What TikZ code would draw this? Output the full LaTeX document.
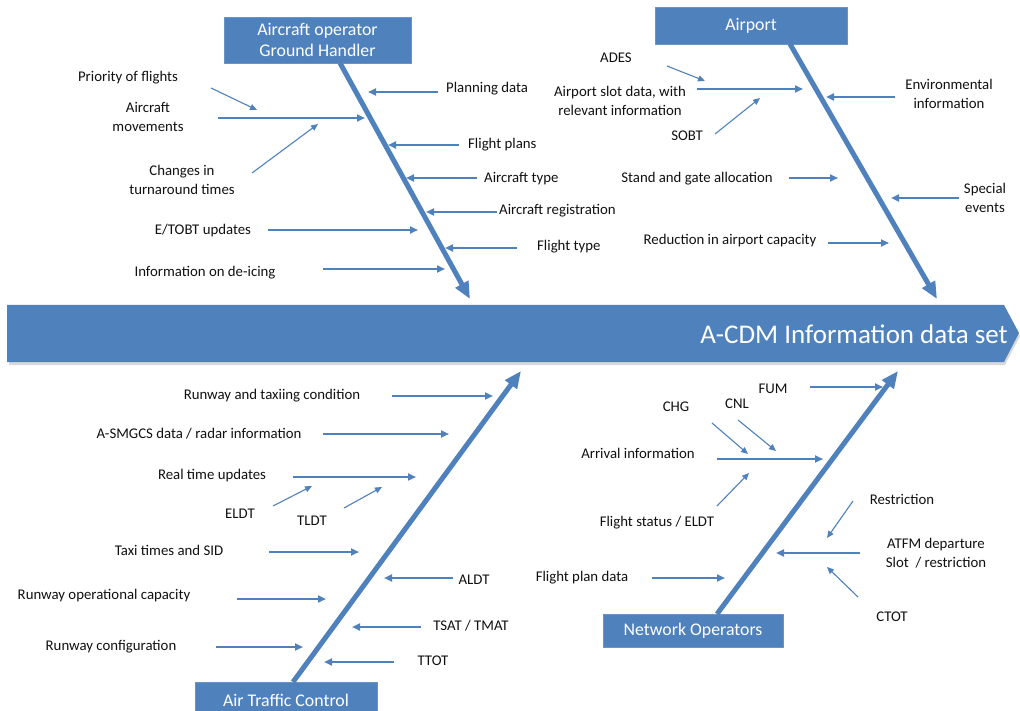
\documentclass[tikz,border=0pt]{standalone}
\usepackage{fontspec}
\setmainfont{Carlito}
\usetikzlibrary{arrows.meta}
\definecolor{bl}{HTML}{4F81BD}
\definecolor{tx}{HTML}{111111}
\newcommand\myarr[4][arr]{%
  \coordinate (#2-s) at (#3);
  \coordinate (#2-e) at (#4);
  \draw[#1] (#2-s) -- (#2-e);}
\begin{document}
\begin{tikzpicture}[x=1pt,y=-1pt,
  lbl/.style={text=tx,font=\fontsize{14.8}{19}\selectfont,align=center,inner sep=0pt},
  arr/.style={draw=bl,line width=2pt,-{Triangle[length=8pt,width=7pt]}},
  thin/.style={draw=bl,line width=1.1pt,-{Triangle[length=7pt,width=6pt]}},
  bone/.style={draw=bl,line width=5pt,-{Triangle[length=17pt,width=14pt]}},
  box/.style={fill=bl,draw=bl!85!white,line width=0.8pt,text=white,font=\fontsize{17.8}{21}\selectfont,align=center,inner sep=0pt}]
\clip (0,0) rectangle (1020,711);
\fill[white] (0,0) rectangle (1020,711);
% spine
\fill[black!15] (9,308) -- (1005,308) -- (1020,336) -- (1005,365) -- (9,365) -- cycle;
\fill[bl] (7,305) -- (1004,305) -- (1019,333) -- (1004,362) -- (7,362) -- cycle;
\node[text=white,font=\fontsize{27}{30}\selectfont,anchor=east,inner sep=0pt] (spine) at (1008,334) {A-CDM Information data set};
% category boxes
\node[box,minimum width=187pt,minimum height=46pt] (ao) at (317.5,40) {Aircraft operator\\Ground Handler};
\node[box,minimum width=192pt,minimum height=37pt] (ap) at (751,25.5) {Airport};
\node[box,minimum width=182pt,minimum height=36pt] (atc) at (286,700) {Air Traffic Control};
\node[box,minimum width=180pt,minimum height=33pt] (no) at (693,630.5) {Network Operators};
% bones
\coordinate (ao-b) at (340,63);  \coordinate (ao-t) at (470,299);
\coordinate (ap-b) at (790,44);  \coordinate (ap-t) at (937,299);
\coordinate (atc-b) at (293,682); \coordinate (atc-t) at (521,371);
\coordinate (no-b) at (717,614); \coordinate (no-t) at (898,371);
\draw[bone] (ao-b) -- (ao-t);
\draw[bone] (ap-b) -- (ap-t);
\draw[bone] (atc-b) -- (atc-t);
\draw[bone] (no-b) -- (no-t);
% ---- Aircraft operator / ground handler
\node[lbl] (prio) at (128,78) {Priority of flights};
\node[lbl] (acmov) at (148,116.5) {Aircraft\\movements};
\node[lbl] (chgta) at (182,179.5) {Changes in\\turnaround times};
\node[lbl] (etobt) at (203,231) {E/TOBT updates};
\node[lbl] (deice) at (205,273) {Information on de-icing};
\node[lbl,anchor=west] (plan) at (446,89) {Planning data};
\node[lbl,anchor=west] (fpl) at (468,145) {Flight plans};
\node[lbl,anchor=west] (actype) at (484,179) {Aircraft type};
\node[lbl,anchor=west] (acreg) at (499,211) {Aircraft registration};
\node[lbl,anchor=west] (ftype) at (537,247) {Flight type};
\myarr[thin]{a1}{211,88}{257,110}
\myarr{a2}{218,118}{365,118}
\myarr[thin]{a3}{252,173}{318,124}
\myarr{a4}{268,230}{418,230}
\myarr{a5}{323,269}{445,269}
\myarr{a6}{438,92}{368,92}
\myarr{a7}{459,145}{388,145}
\myarr{a8}{477,178}{406,178}
\myarr{a9}{497,212}{426,212}
\myarr{a10}{517,248}{445,248}
% ---- Airport
\node[lbl] (ades) at (616,58) {ADES};
\node[lbl] (slot) at (620,101) {Airport slot data, with\\relevant information};
\node[lbl] (sobt) at (687,136) {SOBT};
\node[lbl] (env) at (949,94) {Environmental\\information};
\node[lbl] (stand) at (697,179) {Stand and gate allocation};
\node[lbl] (spec) at (985,198) {Special\\events};
\node[lbl] (reduc) at (730,241) {Reduction in airport capacity};
\myarr[thin]{b1}{667,66}{705,81}
\myarr{b2}{697,89}{803,89}
\myarr[thin]{b3}{715,134}{760,98}
\myarr{b4}{895,97}{826,97}
\myarr{b5}{789,178}{838,178}
\myarr{b6}{959,198}{891,198}
\myarr{b7}{828,243}{889,243}
% ---- Air traffic control
\node[lbl] (rwycond) at (272,396) {Runway and taxiing condition};
\node[lbl] (asmgcs) at (199,434) {A-SMGCS data / radar information};
\node[lbl] (rtu) at (212,476) {Real time updates};
\node[lbl] (eldt) at (240,514) {ELDT};
\node[lbl] (tldt) at (312,521) {TLDT};
\node[lbl] (taxi) at (169,550) {Taxi times and SID};
\node[lbl] (aldt) at (474,580) {ALDT};
\node[lbl] (rwycap) at (104,596) {Runway operational capacity};
\node[lbl] (tsat) at (471,626) {TSAT / TMAT};
\node[lbl] (rwyconf) at (111,647) {Runway configuration};
\node[lbl] (ttot) at (433,661) {TTOT};
\myarr{c1}{392,396}{493,396}
\myarr{c2}{323,434}{449,434}
\myarr{c3}{293,477}{416,477}
\myarr[thin]{c4}{273,506}{312,486}
\myarr[thin]{c5}{344,508}{382,487}
\myarr{c6}{269,552}{359,552}
\myarr{c7}{453,578}{384,578}
\myarr{c8}{237,599}{326,599}
\myarr{c9}{421,627}{352,627}
\myarr{c10}{216,647}{303,647}
\myarr{c11}{394,662}{324,662}
% ---- Network operators
\node[lbl] (fum) at (773,389) {FUM};
\node[lbl] (chg) at (676,407) {CHG};
\node[lbl] (cnl) at (737,404) {CNL};
\node[lbl] (arrinf) at (638,453) {Arrival information};
\node[lbl] (fstat) at (657,523) {Flight status / ELDT};
\node[lbl] (restr) at (902,499) {Restriction};
\node[lbl] (atfm) at (936,553) {ATFM departure\\Slot \ / restriction};
\node[lbl] (ctot) at (892,617) {CTOT};
\node[lbl] (fpd) at (582,578) {Flight plan data};
\myarr{d1}{810,387}{883,387}
\myarr[thin]{d2}{712,423}{748,454}
\myarr[thin]{d3}{738,420}{776,451}
\myarr{d4}{717,459}{823,459}
\myarr[thin]{d5}{717,506}{749,473}
\myarr[thin]{d6}{853,501}{827,538}
\myarr{d7}{860,553}{776,553}
\myarr[thin]{d8}{858,597}{827,567}
\myarr{d9}{652,578}{725,578}
\end{tikzpicture}
\end{document}
